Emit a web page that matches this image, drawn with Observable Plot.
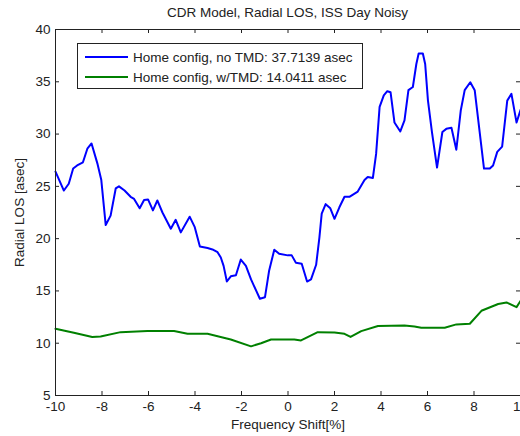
<!DOCTYPE html>
<html><head><meta charset="utf-8">
<script src="https://cdn.jsdelivr.net/npm/d3@7"></script>
<script src="https://cdn.jsdelivr.net/npm/@observablehq/plot@0.6"></script>
<style>
body{margin:0;background:#fff;}
#wrap{position:relative;width:520px;height:436px;overflow:hidden;font-family:"Liberation Sans",Arial,sans-serif;color:#222;}
#title{position:absolute;top:5px;left:55px;width:465px;text-align:center;font-size:13.5px;white-space:nowrap;}
#legend{position:absolute;left:77px;top:43px;width:286px;height:46px;border:1px solid #222;background:#fff;box-sizing:border-box;font-size:13.5px;}
.row{position:absolute;left:0;height:18px;display:flex;align-items:center;white-space:nowrap;}
.sw{display:inline-block;width:43px;height:2px;margin-left:7px;margin-right:5px;}
</style>
</head><body>
<div id="wrap"><div id="title">CDR Model, Radial LOS, ISS Day Noisy</div></div>
<script>
const titleText = "CDR Model, Radial LOS, ISS Day Noisy";
const xLabel = "Frequency Shift[%]";
const yLabel = "Radial LOS [asec]";
const xTicks = [-10, -8, -6, -4, -2, 0, 2, 4, 6, 8, 10];
const yTicks = [5, 10, 15, 20, 25, 30, 35, 40];
const seriesNames = ["Home config, no TMD: 37.7139 asec", "Home config, w/TMD: 14.0411 asec"];
const seriesColors = ["#0000ff", "#008000"];

const blueX = [-10.00,-9.64,-9.43,-9.24,-9.07,-8.82,-8.63,-8.45,-8.20,-8.03,-7.84,-7.63,-7.41,-7.27,-7.03,-6.77,-6.62,-6.38,-6.19,-6.02,-5.81,-5.62,-5.40,-5.04,-4.83,-4.61,-4.23,-4.01,-3.79,-3.46,-3.25,-3.03,-2.89,-2.77,-2.63,-2.46,-2.24,-2.03,-1.81,-1.59,-1.21,-0.99,-0.81,-0.59,-0.38,-0.01,0.16,0.34,0.59,0.82,0.99,1.21,1.35,1.45,1.62,1.82,2.00,2.21,2.43,2.64,3.00,3.29,3.43,3.65,3.79,3.94,4.12,4.27,4.41,4.58,4.83,5.01,5.18,5.37,5.52,5.62,5.80,5.90,6.02,6.19,6.41,6.64,6.81,7.03,7.24,7.43,7.60,7.84,8.03,8.43,8.68,8.82,9.00,9.21,9.43,9.61,9.83,10.00];
const blueY = [26.4,24.6,25.25,26.7,27.0,27.3,28.6,29.1,27.2,25.6,21.3,22.2,24.8,25.0,24.6,24.0,23.8,22.9,23.7,23.75,22.7,23.65,22.5,20.95,21.8,20.6,22.1,21.1,19.25,19.1,18.97,18.7,18.2,17.4,15.9,16.4,16.5,18.0,17.4,16.1,14.25,14.4,16.96,18.94,18.56,18.4,18.4,17.7,17.6,15.9,16.1,17.5,20.1,22.4,23.3,22.9,21.9,23.0,24.0,24.0,24.5,25.6,25.9,25.8,28.1,32.6,33.7,34.1,34.0,31.1,30.25,31.3,34.2,34.5,36.7,37.71,37.71,36.7,33.2,30.2,26.8,30.2,30.5,30.6,28.5,32.25,34.2,34.96,34.2,26.7,26.7,27.0,28.3,28.8,33.2,33.85,31.1,32.3];

const greenX = [-10,-9.21,-8.42,-8.06,-7.2,-6.05,-4.9,-4.32,-3.46,-2.46,-1.59,-1.16,-0.73,0.27,0.56,1.28,2.0,2.43,2.69,3.15,3.87,5.01,5.44,5.73,6.74,7.24,7.82,8.32,9.04,9.4,9.83,10.0];
const greenY = [11.38,11.0,10.6,10.65,11.06,11.16,11.16,10.9,10.9,10.36,9.7,10.0,10.36,10.36,10.27,11.06,11.03,10.9,10.6,11.16,11.64,11.7,11.6,11.48,11.48,11.8,11.86,13.1,13.75,13.9,13.45,14.04];

const blue = blueX.map((x, i) => ({x, y: blueY[i]}));
const green = greenX.map((x, i) => ({x, y: greenY[i]}));

const W = 520, H = 436, mL = 55, mR = 0, mT = 29, mB = 41;
const innerW = W - mL - mR, innerH = H - mT - mB, tick = 4;
const ink = "#222";

const chart = Plot.plot({
  width: W, height: H,
  marginLeft: mL, marginRight: mR, marginTop: mT, marginBottom: mB,
  style: {fontFamily: "Liberation Sans, Arial, sans-serif", fontSize: "13.5px", color: ink, background: "transparent", overflow: "visible"},
  x: {domain: [xTicks[0], xTicks[xTicks.length - 1]]},
  y: {domain: [yTicks[0], yTicks[yTicks.length - 1]]},
  marks: [
    Plot.axisX(xTicks, {tickSize: 0, tickPadding: 6, tickFormat: d => String(d), label: xLabel, labelAnchor: "center", labelOffset: 33, labelArrow: false}),
    Plot.axisY(yTicks, {tickSize: 0, tickPadding: 5, tickFormat: d => String(d), label: yLabel, labelAnchor: "center", labelOffset: 41, labelArrow: false}),
    Plot.tickX(xTicks, {x: d => d, insetTop: innerH - tick, stroke: ink}),
    Plot.tickX(xTicks, {x: d => d, insetBottom: innerH - tick, stroke: ink}),
    Plot.tickY(yTicks, {y: d => d, insetRight: innerW - tick, stroke: ink}),
    Plot.tickY(yTicks, {y: d => d, insetLeft: innerW - tick, stroke: ink}),
    Plot.line(green, {x: "x", y: "y", stroke: seriesColors[1], strokeWidth: 2}),
    Plot.line(blue, {x: "x", y: "y", stroke: seriesColors[0], strokeWidth: 2}),
    Plot.ruleY([yTicks[0], yTicks[yTicks.length - 1]], {stroke: ink}),
    Plot.ruleX([xTicks[0]], {stroke: ink})
  ]
});

const wrap = document.getElementById("wrap");
wrap.insertBefore(chart, wrap.firstChild);
document.getElementById("title").textContent = titleText;

const legend = document.createElement("div");
legend.id = "legend";
seriesNames.forEach((name, i) => {
  const row = document.createElement("div");
  row.className = "row";
  row.style.top = (i === 0 ? 4 : 24) + "px";
  const sw = document.createElement("span");
  sw.className = "sw";
  sw.style.background = seriesColors[i];
  const t = document.createElement("span");
  t.textContent = name;
  row.appendChild(sw);
  row.appendChild(t);
  legend.appendChild(row);
});
wrap.appendChild(legend);
</script>
</body></html>
